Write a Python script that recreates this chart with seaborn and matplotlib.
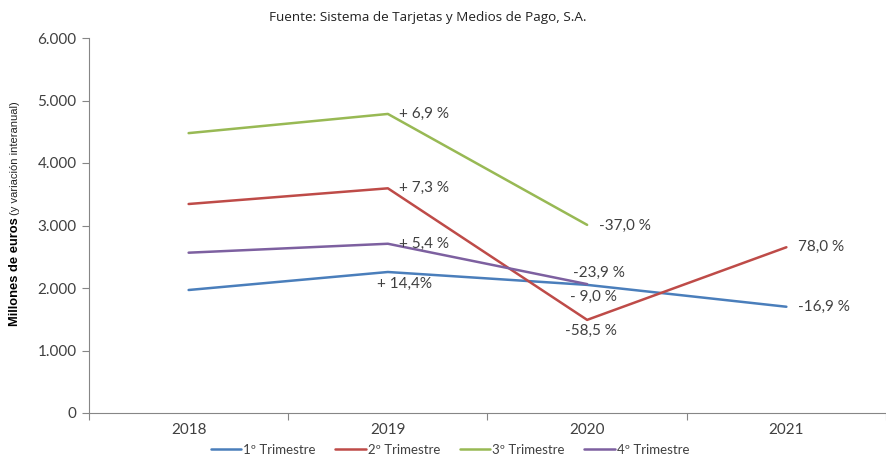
import matplotlib
matplotlib.use("Agg")
import matplotlib.pyplot as plt
import seaborn as sns
import pandas as pd
from matplotlib.ticker import FuncFormatter, FixedLocator

years = ["2018", "2019", "2020", "2021"]
q1 = [1968, 2256, 2050, 1700]
q2 = [3344, 3595, 1490, 2652]
q3 = [4478, 4785, 3010, None]
q4 = [2565, 2708, 2062, None]
series_names = ["1º Trimestre", "2º Trimestre", "3º Trimestre", "4º Trimestre"]
colors = ["#4A7EBB", "#BE4B48", "#98B954", "#7D60A0"]

# annotation labels: (series index, year index, text)
labels = [
    (2, 1, "+ 6,9 %"), (1, 1, "+ 7,3 %"), (3, 1, "+ 5,4 %"), (0, 1, "+ 14,4%"),
    (2, 2, "-37,0 %"), (3, 2, "-23,9 %"), (0, 2, "- 9,0 %"), (1, 2, "-58,5 %"),
    (1, 3, "78,0 %"), (0, 3, "-16,9 %"),
]
label_offsets = {
    (2, 1): (11, 0), (1, 1): (11, 0), (3, 1): (11, 0), (0, 1): (-11, -12),
    (2, 2): (12, -1), (3, 2): (-14, 11), (0, 2): (-17, -12), (1, 2): (-22, -11),
    (1, 3): (12, 0), (0, 3): (12, 0),
}

rows = []
for name, vals in zip(series_names, [q1, q2, q3, q4]):
    for y, v in zip(years, vals):
        if v is not None:
            rows.append({"Año": y, "Valor": v, "Serie": name})
df = pd.DataFrame(rows)

sns.set_theme(style="white")
plt.rcParams["font.family"] = ["Lato", "DejaVu Sans"]
txt = "#404040"

fig = plt.figure(figsize=(8.87, 4.57), dpi=100)
ax = fig.add_axes([89 / 887, 1 - 413 / 457, (886 - 89) / 887, (413 - 38) / 457])

sns.lineplot(data=df, x="Año", y="Valor", hue="Serie", hue_order=series_names,
             palette=colors, linewidth=1.8, ax=ax, sort=False)

ax.set_xlim(-0.5, 3.5)
ax.set_ylim(0, 6000)
ax.set_yticks(range(0, 6001, 1000))
ax.yaxis.set_major_formatter(FuncFormatter(lambda v, p: f"{int(v):,}".replace(",", ".")))
ax.set_xticks(range(4))
ax.set_xticklabels(years)
ax.xaxis.set_minor_locator(FixedLocator([-0.5, 0.5, 1.5, 2.5, 3.5]))
ax.tick_params(axis="x", which="major", length=0, pad=7, labelsize=11, labelcolor=txt)
ax.tick_params(axis="x", which="minor", length=5, width=0.8, color="#868686", direction="out", bottom=True)
ax.tick_params(axis="y", length=5, width=0.8, color="#868686", direction="out", left=True,
               labelsize=11, labelcolor=txt, pad=4)
for s in ["top", "right"]:
    ax.spines[s].set_visible(False)
for s in ["left", "bottom"]:
    ax.spines[s].set_color("#868686")
    ax.spines[s].set_linewidth(0.8)
ax.set_xlabel("")
ax.set_ylabel("")

all_vals = [q1, q2, q3, q4]
for si, yi, t in labels:
    dx, dy = label_offsets[(si, yi)]
    ax.annotate(t, xy=(yi, all_vals[si][yi]), xycoords="data",
                xytext=(dx, dy), textcoords="offset pixels",
                ha="left", va="center", fontsize=11, color=txt)

sns.move_legend(ax, loc="center", bbox_to_anchor=(450 / 887, 1 - 450 / 457),
                bbox_transform=fig.transFigure,
                ncol=4, frameon=False, title=None, fontsize=9.5, borderaxespad=0,
                handlelength=2.3, handletextpad=0.15, columnspacing=1.5)
leg = ax.get_legend()
for t in leg.get_texts():
    t.set_color(txt)

fig.text(428 / 887, 1 - 17 / 457, "Fuente: Sistema de Tarjetas y Medios de Pago, S.A.",
         ha="center", va="center", fontsize=9.7, color="#222222",
         family=["Open Sans", "DejaVu Sans"])

narrow = ["Liberation Sans", "DejaVu Sans"]
t1 = fig.text(15 / 887, 1 - 326 / 457, "Millones de euros", rotation=90,
              ha="center", va="bottom", fontsize=9.3, fontweight="bold",
              color="black", family=narrow)
fig.canvas.draw()
bb = t1.get_window_extent(fig.canvas.get_renderer())
top = bb.y1 / fig.bbox.height
fig.text(15 / 887, top + 2 / 457, "(y variación interanual)", rotation=90,
         ha="center", va="bottom", fontsize=8,
         color="#222222", family=narrow)

fig.savefig("out.png", dpi=100)
